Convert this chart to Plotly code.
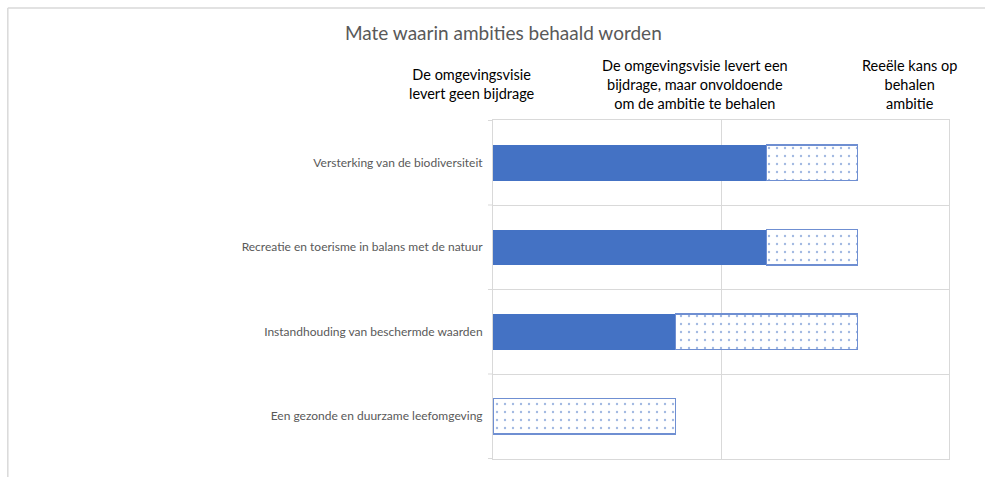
import plotly.graph_objects as go

# Ambitions (top to bottom) and how far the vision gets on each
ambities = [
    "Versterking van de biodiversiteit",
    "Recreatie en toerisme in balans met de natuur",
    "Instandhouding van beschermde waarden",
    "Een gezonde en duurzame leefomgeving",
]
bijdrage_zeker = [1.2, 1.2, 0.8, 0.0]      # solid part
bijdrage_onzeker = [0.4, 0.4, 0.8, 0.8]    # dotted part

kolomkoppen = [
    "De omgevingsvisie<br>levert geen bijdrage",
    "De omgevingsvisie levert een<br>bijdrage, maar onvoldoende<br>om de ambitie te behalen",
    "Reeële kans op<br>behalen<br>ambitie",
]
kop_posities = [-0.046, 0.443, 0.914]

BLAUW = "#4472C4"
GRIJS = "#D9D9D9"
FONT = "Lato"

fig = go.Figure()
fig.add_trace(go.Bar(
    y=ambities, x=bijdrage_zeker, orientation="h",
    marker=dict(color=BLAUW, line=dict(width=0)),
    width=0.42, showlegend=False, hoverinfo="x+y",
))
fig.add_trace(go.Bar(
    y=ambities, x=bijdrage_onzeker, orientation="h",
    marker=dict(
        color="white",
        line=dict(color="#6F8FD2", width=1.3),
        pattern=dict(shape=".", fgcolor=BLAUW, bgcolor="white", size=8, solidity=0.07),
    ),
    width=0.42, showlegend=False, hoverinfo="x+y",
))

annotations = []
for tekst, xp in zip(kolomkoppen, kop_posities):
    annotations.append(dict(
        text=tekst, x=xp, y=1.106, xref="paper", yref="paper",
        xanchor="center", yanchor="middle", showarrow=False, align="center",
        font=dict(family=FONT, size=14.5, color="#000000"),
    ))

# outer chart frame (top and left edge)
shapes = [
    dict(type="line", xref="paper", yref="paper", x0=-1.064, x1=1.2,
         y0=1.3304, y1=1.3304, line=dict(color=GRIJS, width=1.5)),
    dict(type="line", xref="paper", yref="paper", x0=-1.064, x1=-1.064,
         y0=-0.06, y1=1.3304, line=dict(color=GRIJS, width=1.5)),
]
# short tick stubs at the category boundaries
for i in range(len(ambities) + 1):
    shapes.append(dict(type="line", xref="paper", yref="y", x0=-0.011, x1=0,
                       y0=i - 0.5, y1=i - 0.5, line=dict(color=GRIJS, width=1)))

fig.update_layout(
    width=985, height=477,
    margin=dict(l=493, r=36, t=120, b=18),
    barmode="stack", bargap=0.58,
    paper_bgcolor="white", plot_bgcolor="white",
    title=dict(text="Mate waarin ambities behaald worden", xref="container", yref="container",
               x=0.511, y=0.931, xanchor="center", yanchor="middle",
               font=dict(family=FONT, size=19, color="#595959")),
    annotations=annotations, shapes=shapes,
    xaxis=dict(range=[0, 2], dtick=1, showticklabels=False, showgrid=True,
               gridcolor=GRIJS, gridwidth=1, zeroline=False,
               showline=True, mirror=True, linecolor=GRIJS, linewidth=1, fixedrange=True),
    yaxis=dict(type="category", autorange="reversed", tickson="boundaries",
               ticks="", showgrid=True, ticklabelstandoff=7,
               gridcolor=GRIJS, gridwidth=1, showline=True, mirror=True,
               linecolor=GRIJS, linewidth=1,
               tickfont=dict(family=FONT, size=12, color="#595959"), fixedrange=True),
    font=dict(family=FONT),
)

fig.write_html("out.html")
